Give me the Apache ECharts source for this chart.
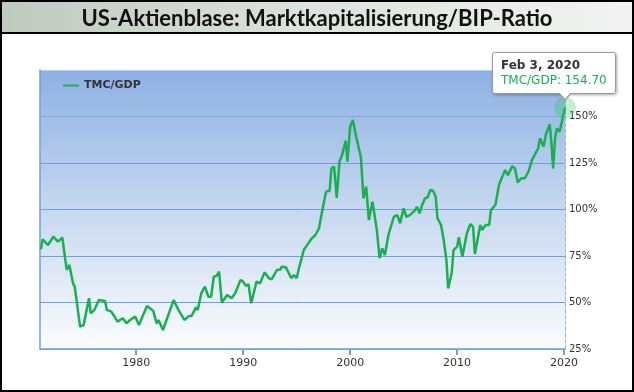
<!DOCTYPE html>
<html>
<head>
<meta charset="utf-8">
<script src="https://cdn.jsdelivr.net/npm/echarts@6/dist/echarts.min.js"></script>
<style>
html,body{margin:0;padding:0;background:#fff;}
#chart{width:634px;height:392px;}
</style>
</head>
<body>
<div id="chart"></div>
<script>
const titleText = 'US-Aktienblase: Marktkapitalisierung/BIP-Ratio';
const seriesName = 'TMC/GDP';
const dates = [
 '1971-02','1971-04','1971-10','1972-04','1972-09','1973-02','1973-07','1973-10','1974-02','1974-04',
 '1974-10','1975-02','1975-08','1975-10','1976-02','1976-07','1977-02','1977-04','1977-09','1977-12',
 '1978-04','1978-10','1979-02','1979-06','1979-12','1980-04','1981-01','1981-08','1981-12','1982-02',
 '1982-07','1983-07','1983-12','1984-07','1984-12','1985-03','1985-08','1985-10','1986-02','1986-06',
 '1986-10','1987-01','1987-04','1987-07','1987-10','1988-01','1988-07','1988-12','1989-04','1989-10',
 '1990-01','1990-04','1990-07','1990-10','1991-04','1991-08','1992-01','1992-06','1992-09','1993-03',
 '1993-07','1993-08','1994-01','1994-07','1994-10','1995-01','1995-04','1995-09','1996-02','1996-06',
 '1996-10','1997-02','1997-04','1997-07','1997-10','1998-02','1998-04','1998-07','1998-10','1999-01',
 '1999-04','1999-08','1999-10','2000-01','2000-04','2000-08','2000-10','2001-01','2001-04','2001-07',
 '2001-10','2002-02','2002-04','2002-07','2002-10','2003-01','2003-04','2003-08','2003-10','2004-02',
 '2004-06','2004-09','2005-01','2005-04','2005-08','2006-02','2006-04','2006-07','2006-09','2007-01',
 '2007-04','2007-07','2007-10','2008-01','2008-03','2008-07','2008-10','2009-01','2009-03','2009-07',
 '2009-09','2010-01','2010-03','2010-07','2010-12','2011-04','2011-07','2011-09','2012-03','2012-05',
 '2012-09','2013-01','2013-03','2013-08','2013-12','2014-03','2014-07','2014-10','2015-03','2015-06',
 '2015-09','2016-01','2016-05','2016-09','2017-01','2017-04','2017-08','2017-10','2018-02','2018-05',
 '2018-09','2018-11','2018-12-24','2019-03','2019-05','2019-08','2019-11','2020-02-03'
];
const values = [
 78.6,84.0,80.9,85.4,82.7,84.8,67.5,70.2,60.3,58.5,
 37.0,37.9,52.3,44.2,46.0,51.3,50.8,46.0,45.1,42.9,
 39.7,41.5,38.8,40.6,42.4,37.9,48.1,45.6,38.8,40.6,
 35.2,51.3,46.3,40.6,42.7,42.7,47.4,46.0,55.0,58.5,
 53.1,53.1,63.9,64.2,66.6,49.9,54.0,52.3,55.0,62.1,
 61.2,58.9,59.8,49.6,61.2,60.3,66.2,63.0,62.5,67.5,
 67.8,69.2,68.9,63.0,64.8,63.0,69.2,78.2,81.8,84.5,
 86.3,89.9,89.3,102.4,109.6,110.1,122.1,123.0,106.3,125.7,
 129.3,137.0,125.7,144.5,148.1,138.6,137.9,128.4,106.0,112.3,
 94.4,104.2,104.2,89.0,73.8,79.1,75.5,86.3,87.2,96.1,
 97.0,92.6,100.6,96.1,97.0,99.7,101.5,97.9,101.5,106.0,
 106.6,110.5,110.1,106.9,95.3,91.7,83.6,72.8,57.6,65.7,
 78.2,80.0,85.1,74.6,87.2,92.2,90.7,76.1,91.7,89.0,
 91.7,91.7,99.7,102.4,113.2,116.8,121.2,118.5,123.3,122.1,
 114.6,116.8,116.8,120.3,126.6,129.3,132.9,138.3,133.8,140.9,
 145.8,134.7,122.1,138.3,143.6,141.8,148.1,154.70
];
const xTickYears = ['1980-01-01','1990-01-01','2000-01-01','2010-01-01','2020-01-01'];
const yMin = 25, yMax = 175, yStep = 25;
const xStart = '1971-01-01', xEnd = '2020-02-03';

function toTs(s){
  const p = s.split('-');
  return Date.UTC(parseInt(p[0],10), parseInt(p[1],10)-1, p[2] ? parseInt(p[2],10) : 1);
}
const monthNames = ['Jan','Feb','Mar','Apr','May','Jun','Jul','Aug','Sep','Oct','Nov','Dec'];
function fmtDate(s){
  const p = s.split('-');
  const m = parseInt(p[1],10)-1;
  const d = p[2] ? parseInt(p[2],10) : 1;
  return monthNames[m] + ' ' + d + ', ' + p[0];
}

const green = '#19b04f';
const axisBlue = '#6f9fe2';
const seriesData = dates.map((d,i)=>[toTs(d), values[i]]);
const tickTs = xTickYears.map(toTs);
const last = dates.length - 1;

const chart = echarts.init(document.getElementById('chart'));
chart.setOption({
  animation: false,
  backgroundColor: '#ffffff',
  title: {
    text: titleText,
    left: 'center',
    top: 3,
    textStyle: {fontFamily: 'Lato', fontWeight: 'bold', fontSize: 22, color: '#111'}
  },
  graphic: [
    {type:'rect', z: -10, shape:{x:0,y:0,width:634,height:34},
     style:{fill:new echarts.graphic.LinearGradient(0,0,1,0,[{offset:0,color:'#bfcabf'},{offset:0.5,color:'#dde3de'},{offset:1,color:'#f2f3f2'}])}},
    {type:'line', z: 10, shape:{x1:0,y1:33,x2:634,y2:33}, style:{stroke:'#000',lineWidth:2}},
    {type:'rect', z: 10, shape:{x:1,y:1,width:632,height:390}, style:{fill:null,stroke:'#000',lineWidth:2}}
  ],
  legend: {
    data: [seriesName],
    left: 58, top: 75,
    icon: 'rect',
    itemWidth: 16, itemHeight: 2,
    textStyle: {fontFamily: 'DejaVu Sans', fontWeight: 'bold', fontSize: 11, color: '#333'}
  },
  grid: {
    left: 40, right: 69, top: 70, bottom: 43,
    show: true, borderWidth: 0,
    backgroundColor: new echarts.graphic.LinearGradient(0,0,0,1,[{offset:0,color:'#8db0e3'},{offset:0.5,color:'#c7d8ef'},{offset:1,color:'#fbfcfe'}])
  },
  tooltip: {
    trigger: 'axis',
    triggerOn: 'none',
    alwaysShowContent: true,
    transitionDuration: 0,
    axisPointer: {type: 'none'},
    backgroundColor: 'rgba(255,255,255,0.96)',
    borderColor: '#9a9a9a',
    borderWidth: 1,
    padding: [5, 8],
    extraCssText: 'box-shadow:1px 1px 3px rgba(0,0,0,0.35);border-radius:3px;',
    position: function(point, params, dom, rect, size){
      return [point[0] - 73, point[1] - 56];
    },
    formatter: function(params){
      const p = params[0];
      return '<div style="font-family:DejaVu Sans;font-size:12px;line-height:15px;">' +
        '<div style="font-weight:bold;color:#333;">' + fmtDate(dates[p.dataIndex]) + '</div>' +
        '<div style="color:' + green + ';">' + p.seriesName + ': ' + values[p.dataIndex].toFixed(2) + '</div>' +
        '<div style="position:absolute;left:65px;bottom:-8px;width:0;height:0;border-left:7px solid transparent;border-right:7px solid transparent;border-top:8px solid #9a9a9a;"></div>' +
        '<div style="position:absolute;left:66px;bottom:-6px;width:0;height:0;border-left:6px solid transparent;border-right:6px solid transparent;border-top:7px solid #fff;"></div>' +
        '</div>';
    }
  },
  xAxis: [{
    type: 'value',
    min: toTs(xStart), max: toTs(xEnd),
    axisLine: {show: true, lineStyle: {color: axisBlue, width: 1.5}},
    axisTick: {show: true, customValues: tickTs, length: 6, lineStyle: {color: axisBlue, width: 2}},
    axisLabel: {customValues: tickTs, fontFamily: 'DejaVu Sans', fontSize: 11, color: '#333', margin: 9,
      formatter: function(v){ return new Date(v).getUTCFullYear() + ''; }},
    splitLine: {show: false}
  }],
  yAxis: [{
    type: 'value', position: 'right',
    min: yMin, max: yMax, interval: yStep,
    axisLine: {show: true, lineStyle: {color: '#9fb5d6', type: 'dashed', width: 1}},
    axisTick: {show: false},
    axisLabel: {fontFamily: 'DejaVu Sans', fontSize: 10, color: '#333', margin: 4,
      formatter: function(v){ return v >= yMax ? '' : v + '%'; }},
    splitLine: {show: true, lineStyle: {color: [axisBlue, axisBlue, axisBlue, axisBlue, axisBlue, '#7ea6e0', '#b7cdee'], width: 1}}
  },{
    type: 'value', position: 'left',
    min: yMin, max: yMax, interval: yStep,
    axisLine: {show: true, lineStyle: {color: axisBlue, width: 1.5}},
    axisTick: {show: false}, axisLabel: {show: false}, splitLine: {show: false}
  }],
  series: [{
    name: seriesName,
    type: 'line',
    data: seriesData,
    yAxisIndex: 0,
    symbol: 'none',
    showSymbol: false,
    color: green,
    lineStyle: {color: green, width: 2.5},
    emphasis: {disabled: true},
    markPoint: {
      symbol: 'circle', symbolSize: 22, silent: true,
      itemStyle: {color: 'rgba(40,190,100,0.28)'},
      label: {show: false},
      data: [{coord: [toTs(dates[last]), values[last]]}]
    }
  }]
});
chart.dispatchAction({type: 'showTip', seriesIndex: 0, dataIndex: last});
</script>
</body>
</html>
